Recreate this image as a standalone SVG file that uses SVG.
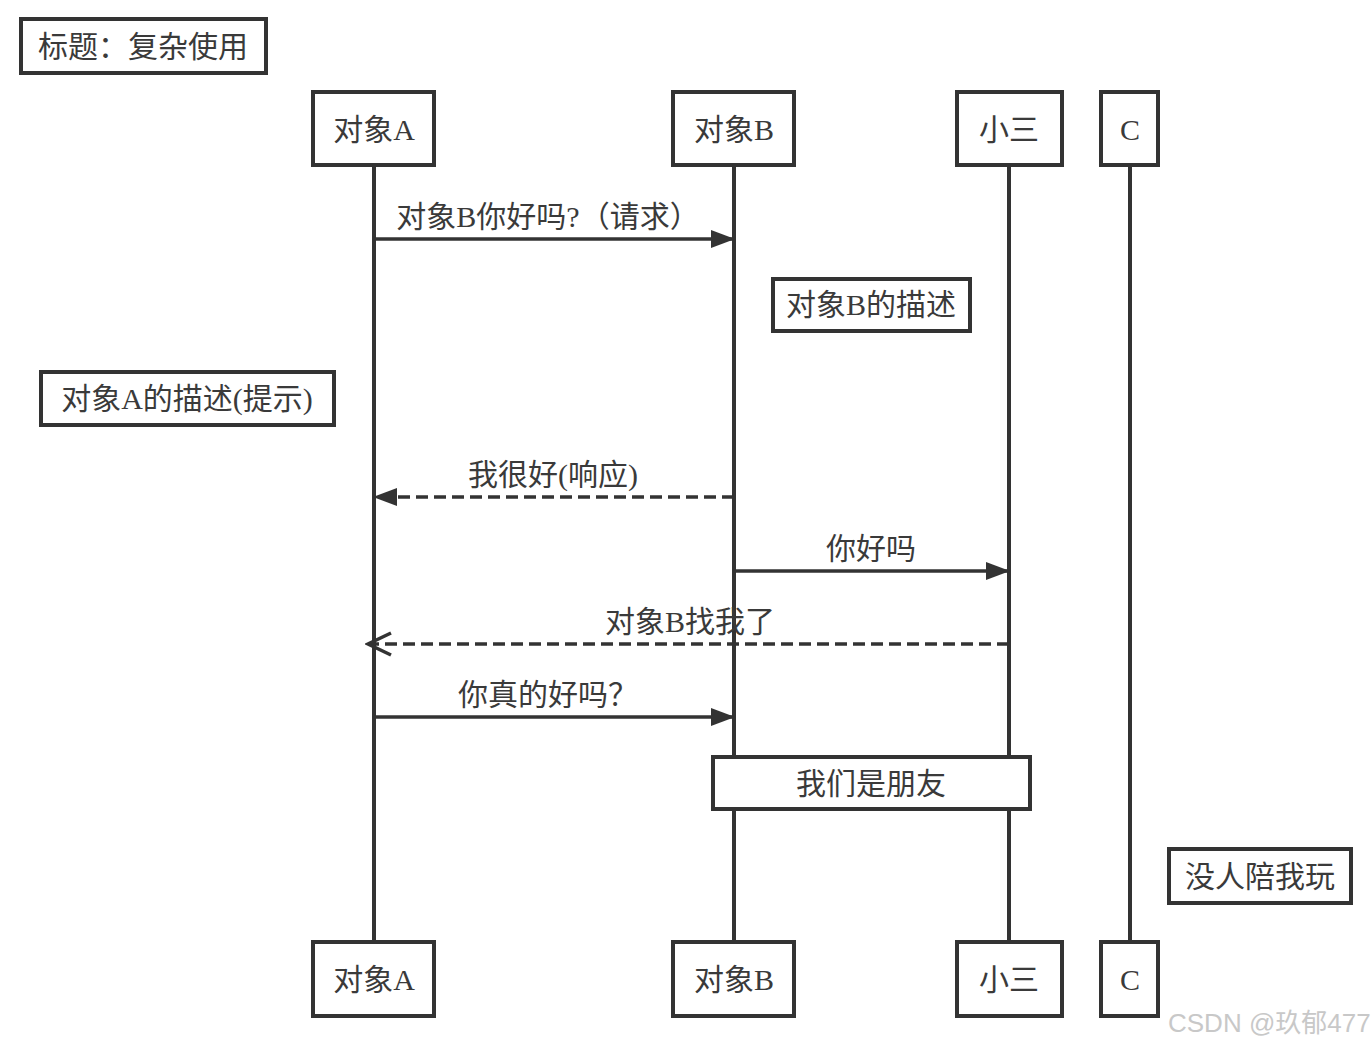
<svg xmlns="http://www.w3.org/2000/svg" width="1372" height="1046" viewBox="0 0 1372 1046">
<style>
.box{fill:#fff;stroke:#333;stroke-width:4}
.life{stroke:#333;stroke-width:4;fill:none}
.msg{stroke:#333;stroke-width:3.5;fill:none}
.dash{stroke-dasharray:12,6}
text{font-family:"Liberation Serif","Noto Sans CJK SC",serif;font-size:30px;fill:#3a3a3a;text-anchor:middle}
.wm{font-family:"Liberation Sans","Noto Sans CJK SC",sans-serif;font-size:26px;fill:#c8c8c8;text-anchor:start}
</style>
<defs>
<marker id="fill" markerWidth="24" markerHeight="18" refX="23" refY="9" orient="auto" markerUnits="userSpaceOnUse">
<path d="M0,0 L24,9 L0,18 Z" fill="#333"/>
</marker>
<marker id="open" markerWidth="28" markerHeight="26" refX="25" refY="13" orient="auto" markerUnits="userSpaceOnUse">
<path d="M2,2 L25,13 L2,24" fill="none" stroke="#333" stroke-width="3.5"/>
</marker>
</defs>
<g id="title"><rect class="box" x="21" y="19" width="245" height="54"/><text x="143" y="57">标题：复杂使用</text></g>
<g id="lifelines">
<line class="life" x1="374" y1="165" x2="374" y2="942"/>
<line class="life" x1="734" y1="165" x2="734" y2="942"/>
<line class="life" x1="1009" y1="165" x2="1009" y2="942"/>
<line class="life" x1="1130" y1="165" x2="1130" y2="942"/>
</g>
<g id="connectors">
<line class="msg" x1="374" y1="239" x2="734" y2="239" marker-end="url(#fill)"/>
<text x="548" y="227">对象B你好吗?（请求）</text>
<line class="msg dash" x1="734" y1="497" x2="374" y2="497" marker-end="url(#fill)"/>
<text x="553" y="485">我很好(响应)</text>
<line class="msg" x1="734" y1="571" x2="1009" y2="571" marker-end="url(#fill)"/>
<text x="871" y="559">你好吗</text>
<line class="msg dash" x1="1009" y1="644" x2="368" y2="644" marker-end="url(#open)"/>
<text x="690" y="632">对象B找我了</text>
<line class="msg" x1="374" y1="717" x2="734" y2="717" marker-end="url(#fill)"/>
<text x="548" y="705">你真的好吗？</text>
</g>
<g id="pA"><rect class="box" x="313" y="92" width="121" height="73"/><text x="374" y="140">对象A</text></g>
<g id="pB"><rect class="box" x="673" y="92" width="121" height="73"/><text x="734" y="140">对象B</text></g>
<g id="pX"><rect class="box" x="957" y="92" width="105" height="73"/><text x="1009" y="140">小三</text></g>
<g id="pC"><rect class="box" x="1101" y="92" width="57" height="73"/><text x="1130" y="140">C</text></g>
<g id="pA2"><rect class="box" x="313" y="942" width="121" height="74"/><text x="374" y="990">对象A</text></g>
<g id="pB2"><rect class="box" x="673" y="942" width="121" height="74"/><text x="734" y="990">对象B</text></g>
<g id="pX2"><rect class="box" x="957" y="942" width="105" height="74"/><text x="1009" y="990">小三</text></g>
<g id="pC2"><rect class="box" x="1101" y="942" width="57" height="74"/><text x="1130" y="990">C</text></g>
<g id="noteB"><rect class="box" x="773" y="279" width="197" height="52"/><text x="871" y="315">对象B的描述</text></g>
<g id="noteA"><rect class="box" x="41" y="372" width="293" height="53"/><text x="187" y="409">对象A的描述(提示)</text></g>
<g id="noteFriends"><rect class="box" x="713" y="757" width="317" height="52"/><text x="871" y="794">我们是朋友</text></g>
<g id="noteC"><rect class="box" x="1169" y="849" width="182" height="54"/><text x="1260" y="887">没人陪我玩</text></g>
<text class="wm" x="1168" y="1032">CSDN @玖郁477</text>
</svg>
